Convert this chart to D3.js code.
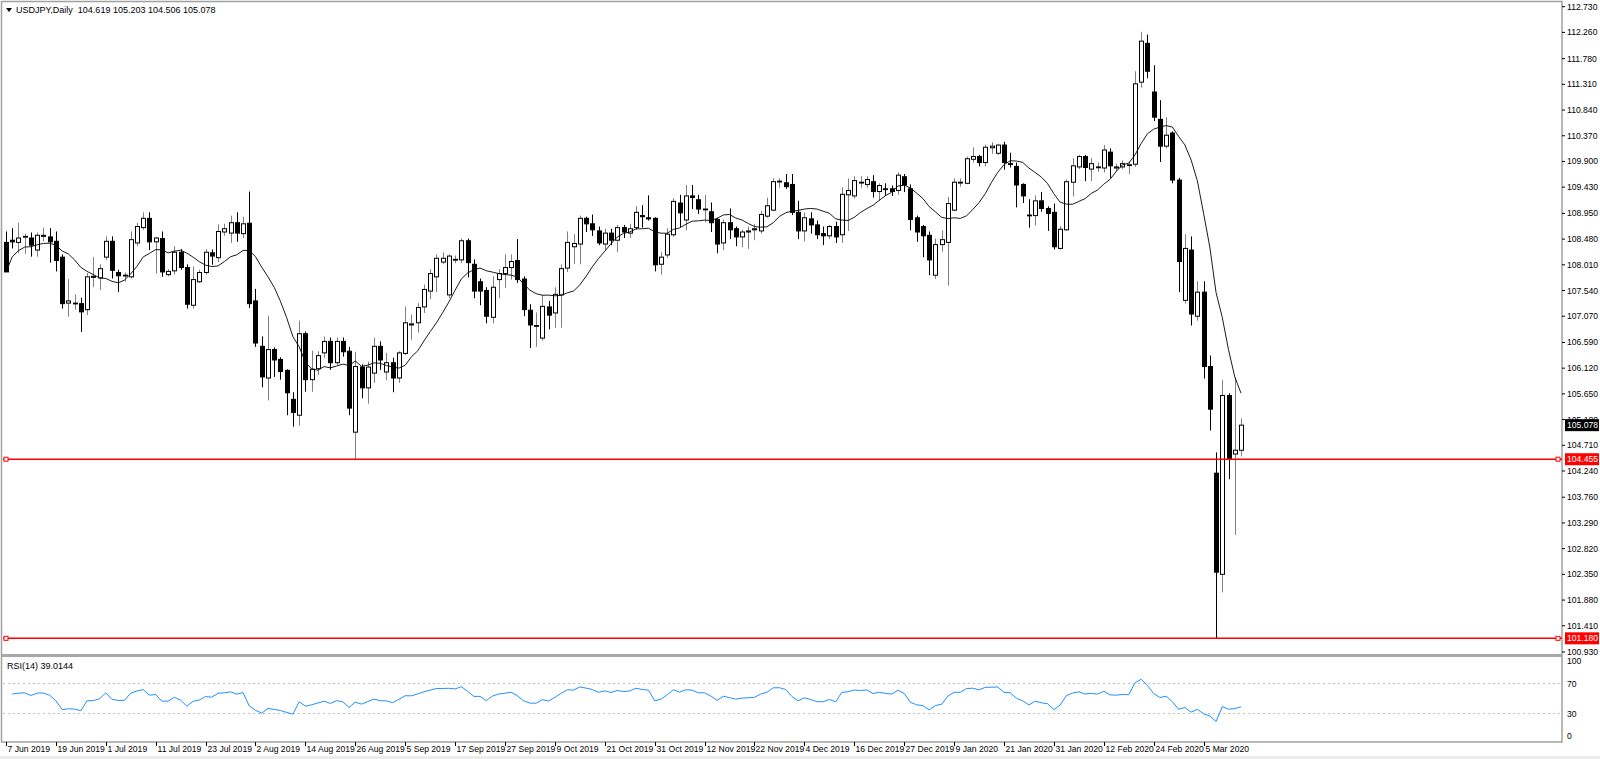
<!DOCTYPE html>
<html><head><meta charset="utf-8">
<script src="https://cdn.jsdelivr.net/npm/d3@7"></script>
<style>body{margin:0;background:#fff;overflow:hidden}svg{display:block;font-family:"Liberation Sans",Arial,sans-serif}</style>
</head><body><svg id="c" width="1600" height="759"></svg>
<script>
const symbolTitle = "USDJPY,Daily  104.619 105.203 104.506 105.078";
const rsiTitle = "RSI(14) 39.0144";
// daily OHLC, one row per bar, 7 Jun 2019 .. 13 Mar 2020
const opens=[],highs=[],lows=[],closes=[];
const ohlc = [
[108.42,108.62,107.88,107.88],[108.46,108.68,108.31,108.43],[108.42,108.78,108.22,108.50],[108.52,108.58,108.21,108.53],[108.50,108.60,108.16,108.37],
[108.28,108.60,108.16,108.55],[108.53,108.69,108.44,108.55],[108.52,108.68,108.05,108.43],[108.44,108.62,107.89,108.09],[108.15,108.20,107.21,107.30],
[107.31,107.75,107.06,107.35],[107.30,107.47,107.19,107.31],[107.30,107.41,106.78,107.15],[107.19,107.86,107.09,107.79],[107.78,108.15,107.60,107.80],
[107.77,108.02,107.55,107.94],[108.15,108.53,108.10,108.44],[108.44,108.53,107.76,107.91],[107.87,107.92,107.51,107.81],[107.81,107.87,107.70,107.82],
[107.79,108.62,107.76,108.47],[108.41,108.78,108.35,108.71],[108.69,108.97,108.65,108.86],[108.86,108.97,108.28,108.43],[108.43,108.52,107.85,108.50],
[108.49,108.62,107.79,107.88],[107.83,107.93,107.80,107.89],[107.90,108.35,107.83,108.24],[108.24,108.30,107.92,107.96],[107.96,108.02,107.21,107.29],
[107.27,107.98,107.21,107.74],[107.70,107.92,107.68,107.87],[107.87,108.30,107.83,108.24],[108.23,108.29,108.01,108.17],[108.14,108.75,108.06,108.62],
[108.61,108.76,108.54,108.67],[108.59,108.91,108.41,108.78],[108.78,108.97,108.43,108.59],[108.58,108.89,108.50,108.76],[108.77,109.35,107.22,107.30],
[107.35,107.57,106.51,106.58],[106.52,106.70,105.77,105.96],[105.94,107.08,105.53,106.46],[106.46,106.50,105.96,106.27],[106.28,106.32,105.91,106.06],
[106.08,106.10,105.26,105.67],[105.55,105.68,105.05,105.31],[105.26,106.99,105.07,106.75],[106.75,106.79,105.69,105.91],[105.91,106.44,105.69,106.10],
[106.11,106.43,106.00,106.35],[106.40,106.70,106.31,106.61],[106.61,106.68,106.09,106.22],[106.22,106.68,106.18,106.61],[106.61,106.68,106.33,106.42],
[106.43,106.51,105.26,105.39],[104.95,106.42,104.455,106.15],[106.14,106.19,105.57,105.76],[105.76,106.24,105.47,106.14],[106.03,106.68,105.85,106.52],
[106.52,106.61,106.09,106.27],[106.05,106.40,105.90,106.22],[106.22,106.31,105.68,105.94],[105.94,106.43,105.85,106.40],[106.39,107.25,106.36,106.95],
[106.91,107.10,106.64,106.93],[106.95,107.31,106.77,107.23],[107.24,107.65,107.13,107.56],[107.53,107.93,107.38,107.85],[107.79,108.20,107.51,108.13],
[108.06,108.24,108.02,108.13],[107.46,108.20,107.40,108.17],[108.10,108.18,108.04,108.11],[108.10,108.49,108.04,108.45],[108.45,108.49,107.78,108.05],
[108.02,108.11,107.40,107.53],[107.70,107.76,107.27,107.53],[107.54,107.60,106.94,107.07],[107.05,107.80,106.94,107.60],[107.74,107.93,107.40,107.85],
[107.85,108.20,107.59,107.96],[107.96,108.20,107.74,108.07],[108.09,108.48,107.68,107.74],[107.75,107.80,107.07,107.19],[107.18,107.29,106.49,106.91],
[106.90,107.14,106.51,106.90],[106.67,107.46,106.62,107.25],[107.24,107.35,106.83,107.09],[107.13,107.60,106.86,107.47],[107.46,108.02,106.86,107.94],
[107.95,108.62,107.88,108.42],[108.34,108.57,108.03,108.40],[108.39,108.91,108.02,108.86],[108.86,108.89,108.61,108.76],[108.76,108.93,108.54,108.65],
[108.63,108.71,108.37,108.41],[108.39,108.67,108.28,108.59],[108.59,108.67,108.37,108.46],[108.46,108.74,108.24,108.69],[108.69,108.74,108.50,108.61],
[108.59,108.76,108.50,108.67],[108.69,109.08,108.65,108.97],[108.91,109.10,108.69,108.89],[108.87,109.28,108.82,108.85],[108.86,108.88,107.89,108.01],
[108.02,108.24,107.83,108.15],[108.19,108.68,108.14,108.57],[108.56,109.23,108.52,109.17],[109.14,109.29,108.70,108.96],[108.83,109.47,108.64,109.27],
[109.27,109.47,109.03,109.24],[109.20,109.29,108.94,109.03],[109.03,109.29,108.79,109.03],[108.98,109.15,108.61,108.78],[108.84,108.87,108.22,108.39],
[108.41,108.84,108.28,108.78],[108.78,109.04,108.48,108.65],[108.67,108.71,108.35,108.52],[108.52,108.65,108.33,108.61],[108.61,108.71,108.30,108.63],
[108.65,108.76,108.46,108.67],[108.63,109.00,108.58,108.93],[108.90,109.24,108.87,109.09],[109.01,109.59,108.99,109.53],[109.53,109.59,109.42,109.54],
[109.51,109.67,109.40,109.44],[109.48,109.67,108.92,108.97],[108.97,109.18,108.48,108.63],[108.63,108.97,108.44,108.87],[108.85,108.97,108.58,108.74],
[108.74,108.82,108.48,108.56],[108.58,108.71,108.37,108.54],[108.54,108.74,108.48,108.71],[108.71,108.80,108.41,108.52],[108.56,109.43,108.41,109.30],
[109.29,109.59,108.63,109.37],[109.27,109.63,109.22,109.55],[109.51,109.63,109.42,109.52],[109.48,109.63,109.42,109.57],[109.53,109.65,109.24,109.35],
[109.35,109.50,109.18,109.46],[109.40,109.50,109.27,109.39],[109.40,109.46,109.27,109.35],[109.37,109.70,109.29,109.65],[109.62,109.67,109.34,109.47],
[109.40,109.48,108.64,108.84],[108.87,108.91,108.43,108.61],[108.71,108.74,108.15,108.54],[108.55,108.62,107.82,108.10],[107.82,108.49,107.75,108.38],
[108.38,108.64,108.25,108.47],[108.42,109.25,107.63,109.13],[109.01,109.59,108.99,109.52],[109.51,109.59,109.44,109.52],[109.50,109.99,109.49,109.95],
[109.94,110.16,109.88,109.99],[109.99,110.02,109.81,109.88],[109.88,110.21,109.81,110.16],[110.15,110.25,110.04,110.18],[110.05,110.21,110.02,110.20],
[110.20,110.26,109.75,109.88],[109.86,110.06,109.79,109.85],[109.81,109.88,109.06,109.47],[109.48,109.50,109.14,109.27],[108.92,109.21,108.69,108.91],
[108.91,109.28,108.73,109.18],[109.18,109.34,108.98,109.04],[109.04,109.08,108.63,108.95],[108.97,109.13,108.29,108.34],[108.31,108.72,108.29,108.66],
[108.65,109.57,108.63,109.53],[109.52,109.96,109.26,109.82],[109.80,110.02,109.76,109.99],[109.99,110.02,109.54,109.79],[109.76,109.96,109.54,109.86],
[109.79,109.88,109.71,109.80],[109.78,110.20,109.70,110.11],[110.07,110.14,109.60,109.82],[109.78,109.86,109.72,109.80],[109.80,109.92,109.76,109.86],
[109.83,109.90,109.67,109.84],[109.85,111.55,109.80,111.32],[111.35,112.27,111.25,112.10],[112.06,112.22,111.42,111.55],[111.17,111.66,110.64,110.71],
[110.67,111.02,109.89,110.18],[110.18,110.71,110.14,110.38],[110.42,110.45,109.50,109.56],[109.56,109.60,107.51,108.07],[107.36,108.57,107.30,108.31],
[108.28,108.53,106.90,107.11],[107.07,107.71,106.99,107.51],[107.51,107.71,105.93,106.15],[106.15,106.35,104.98,105.37],[104.20,104.58,101.18,102.39],
[102.35,105.90,102.02,105.62],[105.62,105.66,104.09,104.47],[104.55,105.95,103.07,104.62],[104.619,105.203,104.506,105.078]
];
ohlc.forEach(r=>{opens.push(r[0]);highs.push(r[1]);lows.push(r[2]);closes.push(r[3]);});
const priceTicks=[112.730,112.260,111.780,111.310,110.840,110.370,109.900,109.430,108.950,108.480,108.010,107.540,107.070,106.590,106.120,105.650,105.180,104.710,104.240,103.760,103.290,102.820,102.350,101.880,101.410,100.930];
const dateLabels=["7 Jun 2019","19 Jun 2019","1 Jul 2019","11 Jul 2019","23 Jul 2019","2 Aug 2019","14 Aug 2019","26 Aug 2019","5 Sep 2019","17 Sep 2019","27 Sep 2019","9 Oct 2019","21 Oct 2019","31 Oct 2019","12 Nov 2019","22 Nov 2019","4 Dec 2019","16 Dec 2019","27 Dec 2019","9 Jan 2020","21 Jan 2020","31 Jan 2020","12 Feb 2020","24 Feb 2020","5 Mar 2020"];
const dateStep=8;
const hLines=[104.455,101.180];
const rsiTicks=[100,70,30,0];
const rsiLevels=[70,30];
const maPeriod=10, rsiPeriod=14;
const rsiSeed=[0.085,0.1]; // assumed average gain / loss before the first bar

const svg=d3.select("#c");
const L=3,R=1562,T=3,PB=654,RB=742;
const x=d3.scaleLinear().domain([0,198]).range([6,1241]);
const y=d3.scaleLinear().domain([100.93,112.73]).range([652,6.7]);
const yr=d3.scaleLinear().domain([0,100]).range([736,661]);
const FS=8.6;

svg.append("rect").attr("x",0).attr("y",0).attr("width",1600).attr("height",759).attr("fill","#fff");
svg.append("rect").attr("x",0).attr("y",756).attr("width",1600).attr("height",3).attr("fill","#ececec");
svg.append("rect").attr("x",L-1.5).attr("y",T-1.5).attr("width",R-L+1.5).attr("height",RB-T+1.5).attr("fill","none").attr("stroke","#a0a0a0").attr("stroke-width",1.5);
svg.append("rect").attr("x",L-1).attr("y",PB).attr("width",R-L+1).attr("height",3).attr("fill","#a8a8a8");

const g=svg.append("g");
priceTicks.forEach(t=>{
  g.append("line").attr("x1",R).attr("x2",R+3).attr("y1",y(t)).attr("y2",y(t)).attr("stroke","#000");
  g.append("text").attr("x",R+5).attr("y",y(t)+3).attr("font-size",FS).text(t.toFixed(3));
});

const cw=3;
ohlc.forEach((r,i)=>{
  const [o,h,l,c]=r, xi=Math.round(x(i))+0.5;
  const bull=c>=o;
  g.append("line").attr("x1",xi).attr("x2",xi).attr("y1",y(h)).attr("y2",y(l)).attr("stroke",bull?"#808080":"#000");
  const top=y(Math.max(o,c)), bot=y(Math.min(o,c));
  g.append("rect").attr("x",xi-cw/2-0.5).attr("y",top).attr("width",cw+1).attr("height",Math.max(bot-top,0.8))
    .attr("fill",bull?"#fff":"#000").attr("stroke","#000");
});

const ma=closes.map((c,i)=>d3.mean(closes.slice(Math.max(0,i-maPeriod+1),i+1)));
g.append("path").datum(ma.map((v,i)=>[i,v]))
 .attr("d",d3.line().x(d=>x(d[0])).y(d=>y(d[1]))).attr("fill","none").attr("stroke","#000").attr("stroke-width",0.9);

hLines.forEach(v=>{
  g.append("line").attr("x1",L).attr("x2",R).attr("y1",y(v)).attr("y2",y(v)).attr("stroke","#ff0000").attr("stroke-width",1.5);
  [L+3,R-4].forEach(px=>g.append("rect").attr("x",px-2).attr("y",y(v)-2).attr("width",4).attr("height",4).attr("fill","#fff").attr("stroke","#ff0000"));
  g.append("rect").attr("x",R+3).attr("y",y(v)-6).attr("width",34).attr("height",12).attr("fill","#ff0000");
  g.append("text").attr("x",R+5).attr("y",y(v)+3).attr("font-size",FS).attr("fill","#fff").text(v.toFixed(3));
});
const last=closes[closes.length-1];
g.append("rect").attr("x",R+3).attr("y",y(last)-6).attr("width",34).attr("height",12).attr("fill","#000");
g.append("text").attr("x",R+5).attr("y",y(last)+3).attr("font-size",FS).attr("fill","#fff").text(last.toFixed(3));

g.append("path").attr("d","M6,8 L12,8 L9,12 Z").attr("fill","#000");
g.append("text").attr("x",16).attr("y",13).attr("font-size",FS+0.4).attr("xml:space","preserve").text(symbolTitle);

const rsi=[];let ag=rsiSeed[0],al=rsiSeed[1];
for(let i=1;i<closes.length;i++){
  const d=closes[i]-closes[i-1];
  ag=(ag*(rsiPeriod-1)+Math.max(d,0))/rsiPeriod;al=(al*(rsiPeriod-1)+Math.max(-d,0))/rsiPeriod;
  rsi.push([i,100-100/(1+ag/al)]);
}
rsiLevels.forEach(v=>g.append("line").attr("x1",L).attr("x2",R).attr("y1",yr(v)).attr("y2",yr(v)).attr("stroke","#c0c0c0").attr("stroke-dasharray","2,3"));
g.append("path").datum(rsi).attr("d",d3.line().x(d=>x(d[0])).y(d=>yr(d[1]))).attr("fill","none").attr("stroke","#1e90ff").attr("stroke-width",1);
g.append("text").attr("x",7).attr("y",669).attr("font-size",FS+0.4).text(rsiTitle);
rsiTicks.forEach(t=>g.append("text").attr("x",R+5).attr("y",yr(t)+3).attr("font-size",FS).text(t));

dateLabels.forEach((lab,k)=>{
  const px=Math.round(x(k*dateStep))+0.5;
  g.append("line").attr("x1",px).attr("x2",px).attr("y1",RB).attr("y2",RB+4).attr("stroke","#000");
  g.append("text").attr("x",px+1).attr("y",752).attr("font-size",FS).text(lab);
});
</script></body></html>
